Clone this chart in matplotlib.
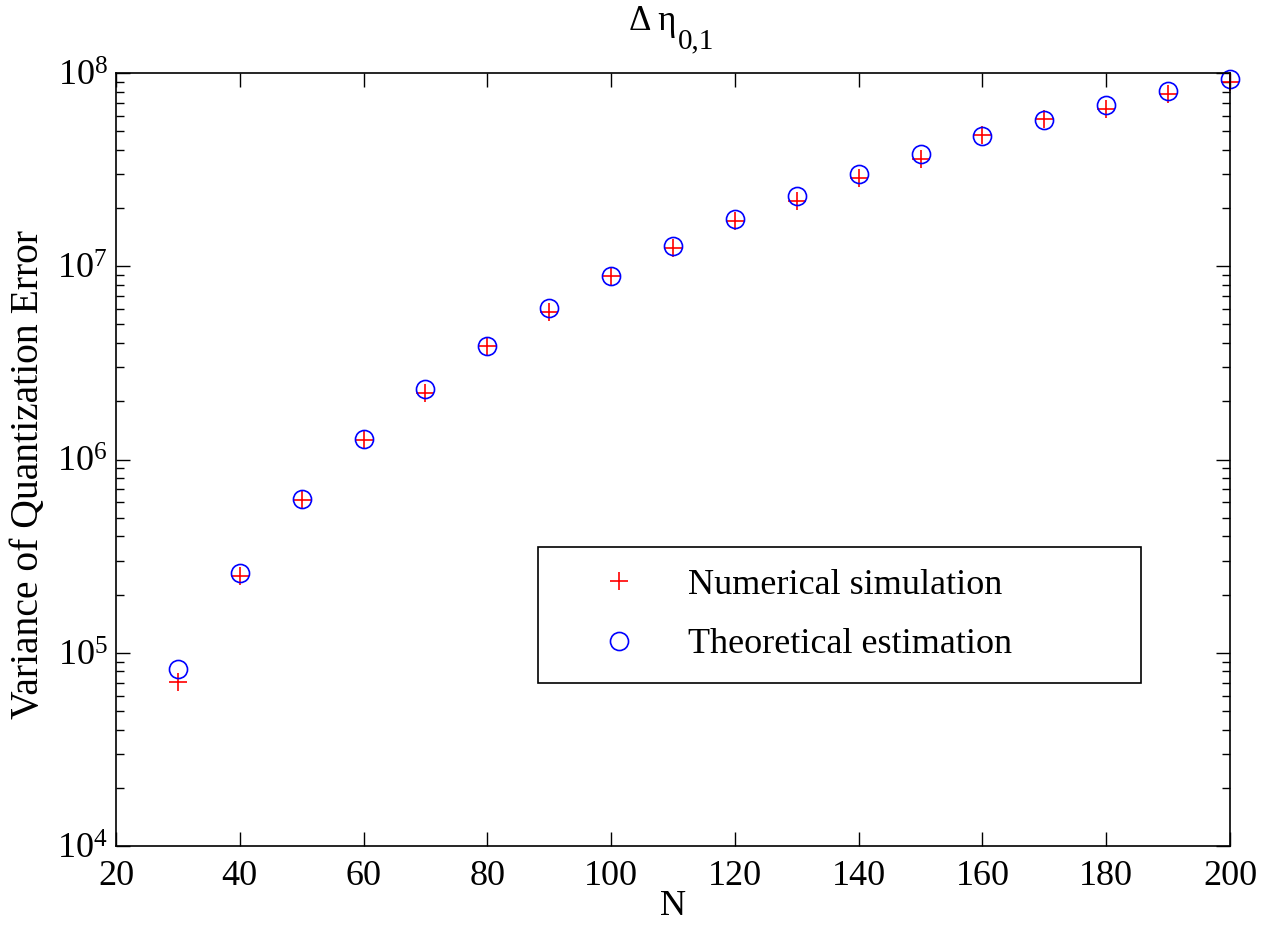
import matplotlib.pyplot as plt

plt.rcParams['font.family'] = ['Liberation Serif', 'DejaVu Serif']

# valores
N = [30, 40, 50, 60, 70, 80, 90, 100, 110, 120, 130, 140, 150, 160, 170, 180, 190, 200]
simulacao = [7.08e4, 2.50e5, 6.2e5, 1.26e6, 2.20e6, 3.88e6, 5.78e6, 8.93e6, 1.25e7,
             1.71e7, 2.18e7, 2.85e7, 3.59e7, 4.75e7, 5.80e7, 6.51e7, 7.79e7, 9.02e7]
teorico = [8.24e4, 2.58e5, 6.25e5, 1.27e6, 2.32e6, 3.88e6, 6.05e6, 8.93e6, 1.27e7,
           1.76e7, 2.32e7, 3.01e7, 3.80e7, 4.72e7, 5.71e7, 6.85e7, 8.04e7, 9.31e7]
xticks = [20, 40, 60, 80, 100, 120, 140, 160, 180, 200]

fs = 26

fig = plt.figure(figsize=(12.68, 9.30), dpi=100)
ax = fig.add_axes([0.0915, 0.0903, 0.8785, 0.8312])

ax.semilogy(N, simulacao, '+', color='red', markersize=13, markeredgewidth=1.2,
            label='Numerical simulation', clip_on=False)
ax.semilogy(N, teorico, 'o', color='blue', markerfacecolor='none', markersize=13,
            markeredgewidth=1.2, label='Theoretical estimation', clip_on=False)

ax.set_xlim(20, 200)
ax.set_ylim(1e4, 1e8)
ax.set_xticks(xticks)
ax.tick_params(which='both', direction='in', top=True, right=True, labelsize=fs)
ax.tick_params(which='major', length=10, width=1)
ax.tick_params(which='minor', length=6, width=1)
ax.tick_params(axis='x', pad=10)
ax.tick_params(axis='y', pad=6)
for s in ax.spines.values():
    s.set_linewidth(1.2)

# título: Δ η com índice 0,1 quase do mesmo tamanho
t = ax.text(0.4605, 1.0556, 'Δ η', transform=ax.transAxes, fontsize=25,
            ha='left', va='baseline')
ax.annotate('0,1', xy=(1, 0), xycoords=t, xytext=(1, -7.5), textcoords='offset points',
            fontsize=21, ha='left', va='baseline')

ax.set_xlabel('N', fontsize=fs, labelpad=-2)
ax.set_ylabel('Variance of Quantization Error', fontsize=28.5)
ax.yaxis.set_label_coords(-0.062, 0.48)

leg = ax.legend(loc='lower left', bbox_to_anchor=(0.379, 0.211, 0.541, 0.175),
                mode='expand', borderaxespad=0, fontsize=fs, frameon=True,
                fancybox=False, edgecolor='black', framealpha=1, borderpad=0.6,
                handletextpad=0.24, labelspacing=0.72, handlelength=3.3)
leg.get_frame().set_linewidth(1.2)

plt.savefig('out.png', dpi=100)
